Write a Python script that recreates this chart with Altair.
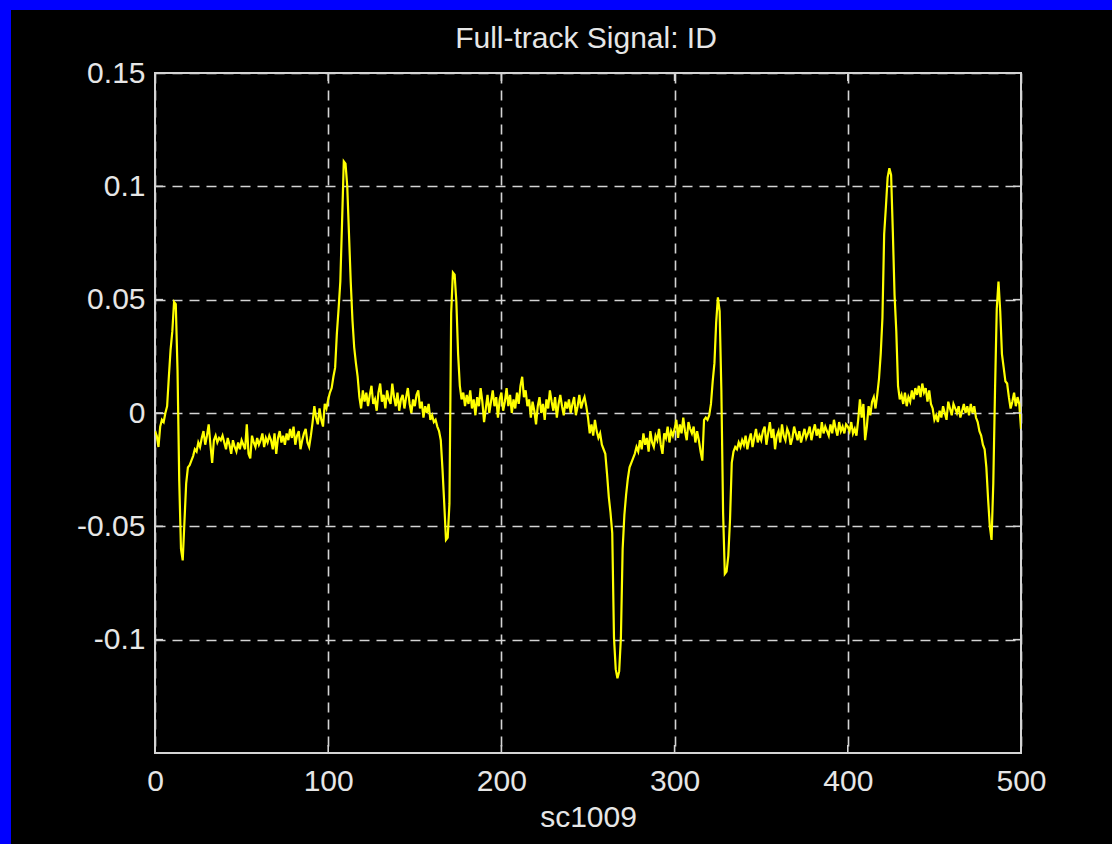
import altair as alt
import pandas as pd

# Sample index along the track (sc1009)
sample = list(range(501))

# ID signal, in thousandths, one value per sample
signal_milli = [
    -8, -10, -15, -6, -3, -4, 0, 3, 16, 28,
    36, 49, 48, 19, -30, -60, -65, -48, -31, -24,
    -23, -21, -19, -16, -17, -13, -15, -11, -8, -14,
    -10, -5, -14, -22, -12, -10, -13, -11, -12, -10,
    -13, -16, -11, -14, -18, -12, -15, -17, -13, -16,
    -12, -14, -16, -5, -18, -20, -10, -13, -15, -11,
    -14, -12, -9, -15, -11, -13, -10, -12, -16, -9,
    -18, -11, -8, -13, -10, -14, -9, -12, -7, -11,
    -6, -14, -10, -8, -16, -12, -9, -7, -13, -15,
    -10, -4, 3, -2, -5, 2, -3, -6, 4, 2,
    6, 9, 11, 16, 20, 35, 46, 58, 84, 111,
    110, 100, 79, 58, 41, 29, 22, 16, 7, 2,
    10, 5, 9, 3, 8, 12, 4, 6, 1, 9,
    13, 5, 8, 2, 10, 6, 4, 13, 7, 3,
    9, 1, 6, 8, 2, 7, 11, 4, 0, 6,
    3, 8, 10, 2, 5, -2, 3, 0, 4, -3,
    -1, -4, -3, -6, -8, -12, -25, -40, -56, -55,
    -40, 44, 62, 61, 49, 26, 12, 6, 9, 3,
    8, 4, 10, 2, 6, -1, 7, 3, 11, 5,
    -4, 2, 8, 0, 5, 10, 3, 7, -2, 6,
    9, 1, 5, 11, 3, 8, 0, 6, 2, 9,
    4, 12, 16, 7, 10, 3, 6, -2, 5, 1,
    -5, 3, 7, 0, 4, -3, 6, 2, 10, 5,
    1, 7, -2, 4, 8, 3, -1, 5, 2, 6,
    0, 4, 7, -1, 3, 8, 2, 5, 7, 3,
    -2, -9, -5, -10, -3, -8, -11, -9, -14, -16,
    -18, -27, -37, -44, -53, -99, -113, -117, -114, -99,
    -60, -45, -36, -29, -24, -22, -20, -18, -15, -17,
    -12, -16, -9, -14, -11, -17, -8, -13, -15, -10,
    -12, -7, -14, -18, -9, -11, -6, -13, -8, -10,
    -7, -3, -11, -5, -9, -2, -8, -12, -4, -7,
    -9, -6, -13, -8, -12, -17, -21, -3, -2, -3,
    -1, 4, 14, 22, 40, 51, 45, 10, -44, -71,
    -70, -63, -47, -22, -17, -15, -16, -13, -15, -12,
    -14, -10, -16, -12, -9, -15, -11, -7, -13, -10,
    -12, -8, -6, -14, -9, -4, -11, -7, -16, -10,
    -8, -13, -5, -10, -12, -7, -9, -14, -11, -6,
    -9, -12, -8, -13, -10, -7, -11, -9, -6, -12,
    -8, -5, -10, -7, -11, -4, -9, -6, -8, -10,
    -5, -9, -3, -7, -10, -4, -8, -6, -9, -5,
    -6, -8, -4, -9, -7, -10, -3, 6, -2, 4,
    -12, -6, 3, -1, 5, 7, 2, 8, 15, 26,
    42, 79, 91, 104, 108, 105, 80, 52, 36, 12,
    6, 8, 4, 9, 3, 7, 5, 10, 6, 11,
    8, 12, 7, 13, 9, 11, 5, 10, 4, 2,
    -3, -1, -4, 1, -2, 3, 0, -3, 5, 2,
    -1, 4, 2, 0, 3, -2, 1, 4, 0, 3,
    -1, 4, 0, 3, -2, -4, -8, -10, -14, -16,
    -24, -38, -50, -56, -31, 10, 46, 58, 45, 26,
    20, 14, 13, 7, 2, 5, 9, 3, 7, 4,
    -7,
]

x_ticks = [0, 100, 200, 300, 400, 500]
y_ticks = [-0.1, -0.05, 0.0, 0.05, 0.1, 0.15]
x_inner_ticks = [100, 200, 300, 400]
y_inner_ticks = [-0.1, -0.05, 0.0, 0.05, 0.1]

W, H = 866, 680
PAD = {"left": 155, "top": 73, "right": 91, "bottom": 91}
FONT = "Liberation Sans"
TEXT = "#e6e6e6"
LINE = "#d4d4d4"

signal = pd.DataFrame({"sample": sample, "id": [v / 1000 for v in signal_milli]})
xt = pd.DataFrame({"t": x_inner_ticks})
yt = pd.DataFrame({"t": y_inner_ticks})
title_df = pd.DataFrame({"title": ["Full-track Signal: ID"]})

x_scale = alt.Scale(domain=[0, 500], nice=False, zero=False)
y_scale = alt.Scale(domain=[-0.15, 0.15], nice=False, zero=False)

x_axis = alt.Axis(
    title="sc1009", values=x_ticks, grid=True, ticks=False, domain=False,
    labelFont=FONT, labelFontSize=30, labelColor=TEXT, labelPadding=13,
    labelFlush=False, labelOverlap=False,
    titleFont=FONT, titleFontSize=30, titleColor=TEXT, titleFontWeight="normal",
    titlePadding=6,
    gridColor=LINE, gridDash=[10, 7], gridWidth=1.6,
)
y_axis = alt.Axis(
    title=None, values=y_ticks, grid=True, ticks=False, domain=False,
    labelFont=FONT, labelFontSize=30, labelColor=TEXT, labelPadding=10,
    labelFlush=False, labelOverlap=False,
    labelExpr="datum.value == 0 ? '0' : replace(format(datum.value, '~g'), '\u2212', '-')",
    gridColor=LINE, gridDash=[10, 7], gridWidth=1.6,
)

X = lambda f: alt.X(f, type="quantitative", scale=x_scale, axis=x_axis)
Y = lambda f: alt.Y(f, type="quantitative", scale=y_scale, axis=y_axis)

line = alt.Chart(signal).mark_line(color="#ffff00", strokeWidth=2.2, clip=True).encode(
    x=X("sample"), y=Y("id")
)

# inward tick marks on all four sides of the box
tick_bottom = alt.Chart(xt).mark_rule(color=LINE, strokeWidth=1.6).encode(
    x=X("t"), y=alt.value(H), y2=alt.value(H - 8)
)
tick_top = alt.Chart(xt).mark_rule(color=LINE, strokeWidth=1.6).encode(
    x=X("t"), y=alt.value(0), y2=alt.value(8)
)
tick_left = alt.Chart(yt).mark_rule(color=LINE, strokeWidth=1.6).encode(
    y=Y("t"), x=alt.value(0), x2=alt.value(8)
)
tick_right = alt.Chart(yt).mark_rule(color=LINE, strokeWidth=1.6).encode(
    y=Y("t"), x=alt.value(W), x2=alt.value(W - 8)
)

# plot title, centred over the axes box
title = alt.Chart(title_df).mark_text(
    font=FONT, fontSize=30, color=TEXT, align="center", baseline="middle"
).encode(
    text="title:N", x=alt.value(W / 2 - 2), y=alt.value(-34)
)

# blue window frame along the left and top edges
frame = pd.DataFrame({"k": [0]})
frame_left = alt.Chart(frame).mark_rect(color="#0000ff").encode(
    x=alt.value(-PAD["left"]), x2=alt.value(-PAD["left"] + 11),
    y=alt.value(-PAD["top"]), y2=alt.value(H + PAD["bottom"]),
)
frame_top = alt.Chart(frame).mark_rect(color="#0000ff").encode(
    x=alt.value(-PAD["left"]), x2=alt.value(W + PAD["right"]),
    y=alt.value(-PAD["top"]), y2=alt.value(-PAD["top"] + 10),
)

chart = alt.layer(
    frame_left, frame_top, line, tick_bottom, tick_top, tick_left, tick_right, title
).properties(
    width=W, height=H,
    padding=PAD,
    autosize=alt.AutoSizeParams(type="none"),
    background="#000000",
).configure_view(
    stroke=LINE, strokeWidth=2, fill="#000000"
)

chart.save("out.html", embed_options={"renderer": "svg", "actions": False})
